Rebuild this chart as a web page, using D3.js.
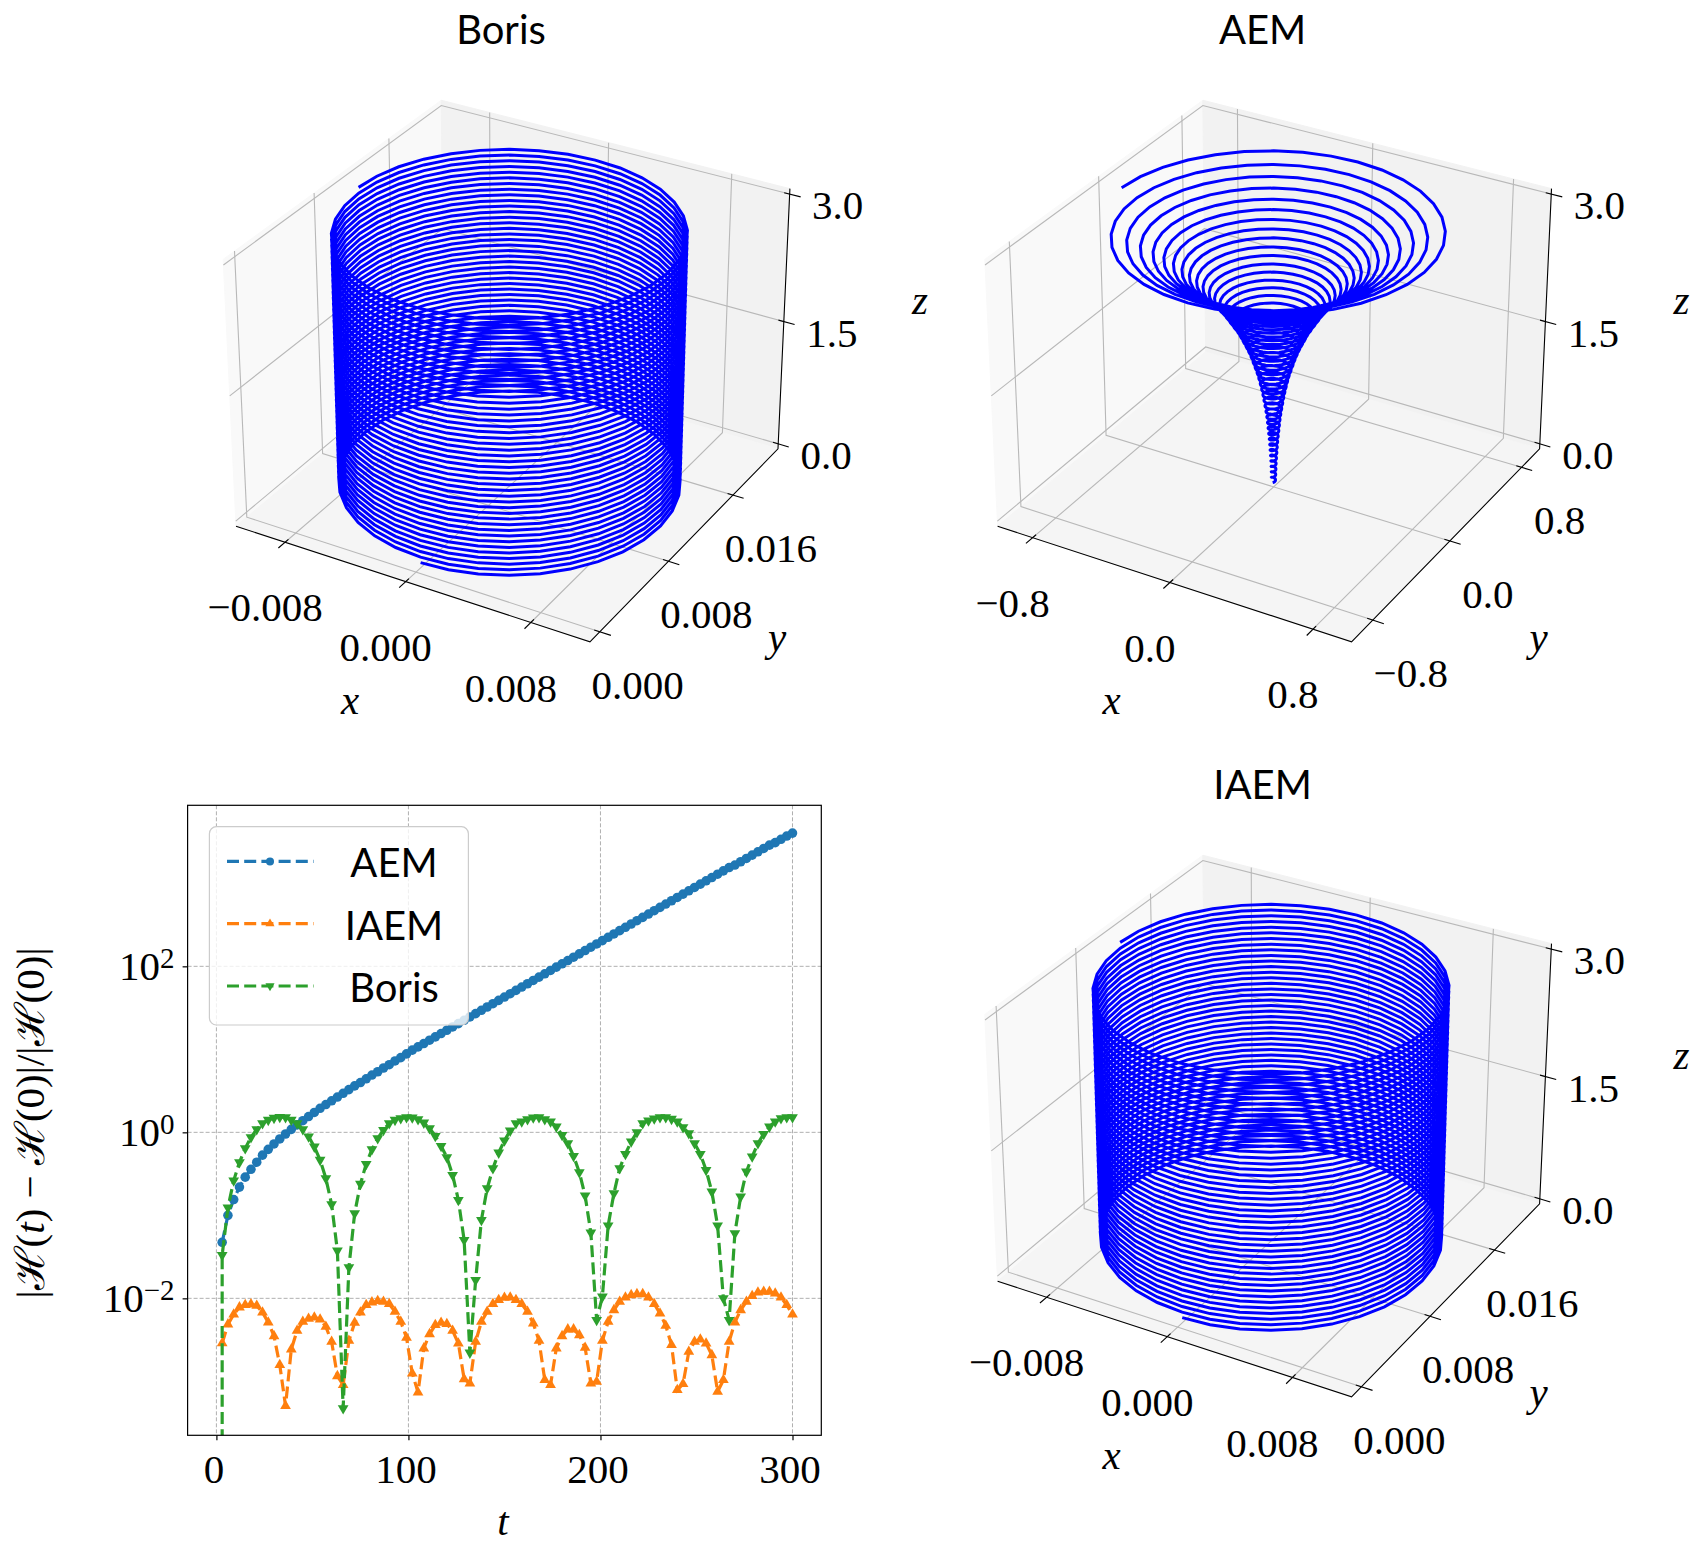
<!DOCTYPE html>
<html>
<head>
<meta charset="utf-8">
<script src="https://d3js.org/d3.v7.min.js"></script>
<style>
  body {margin: 0; background: #fff;}
  svg {display: block;}
  text {font-family: "Liberation Serif", serif; font-size: 41px; fill: #000;}
  .sans {font-family: Lato, sans-serif; font-size: 40px;}
  .axis path, .axis line {stroke: #000; stroke-width: 1.2;}
  .ital {font-style: italic;}
</style>
</head>
<body>
<svg id="chart" width="1701" height="1555"></svg>
<script>
// Energy error, log10 of the value at t = 3, 6, ... 300
var tValues = d3.range(3, 301, 3);
var aemLog = [-1.325,-1.0,-.81,-.66,-.54,-.445,-.36,-.275,-.205,-.14,
  -.08,-.02,.036,.09,.14,.19,.24,.29,.335,.38,
  .425,.47,.515,.56,.60,.645,.69,.73,.775,.815,
  .86,.90,.945,.99,1.03,1.07,1.11,1.15,1.19,1.23,
  1.27,1.31,1.35,1.39,1.43,1.47,1.51,1.55,1.59,1.63,
  1.67,1.71,1.75,1.79,1.83,1.87,1.91,1.95,1.99,2.03,
  2.07,2.11,2.15,2.19,2.23,2.27,2.31,2.35,2.39,2.43,
  2.47,2.51,2.55,2.59,2.63,2.67,2.71,2.75,2.79,2.83,
  2.87,2.91,2.95,2.99,3.03,3.07,3.11,3.15,3.19,3.22,
  3.26,3.30,3.34,3.38,3.42,3.46,3.49,3.53,3.57,3.605];
var iaemLog = [-2.54,-2.313,-2.193,-2.108,-2.08,-2.072,-2.088,-2.169,-2.289,-2.454,
  -2.803,-3.297,-2.614,-2.39,-2.281,-2.245,-2.229,-2.253,-2.341,-2.522,
  -2.936,-3.044,-2.51,-2.293,-2.169,-2.08,-2.048,-2.032,-2.04,-2.068,
  -2.161,-2.281,-2.474,-2.904,-3.133,-2.602,-2.43,-2.321,-2.293,-2.309,
  -2.39,-2.542,-2.972,-3.024,-2.522,-2.281,-2.161,-2.068,-2.02,-1.992,
  -1.988,-2.02,-2.068,-2.161,-2.301,-2.51,-2.984,-3.044,-2.602,-2.454,
  -2.373,-2.373,-2.442,-2.594,-3.024,-3.004,-2.51,-2.281,-2.141,-2.04,
  -1.988,-1.96,-1.948,-1.948,-1.988,-2.068,-2.181,-2.329,-2.562,-3.104,
  -3.032,-2.643,-2.522,-2.494,-2.542,-2.683,-3.124,-2.984,-2.522,-2.289,
  -2.141,-2.04,-1.972,-1.928,-1.92,-1.92,-1.94,-1.988,-2.08,-2.193];
var borisLog = [-1.478,-.908,-.582,-.361,-.193,-.06,.036,.108,.149,.173,
  .185,.181,.149,.108,.036,-.05,-.173,-.333,-.554,-.867,
  -1.426,-3.325,-1.626,-.976,-.622,-.382,-.205,-.072,.028,.108,
  .149,.169,.181,.177,.157,.116,.048,-.044,-.165,-.30,
  -.514,-.815,-1.297,-2.655,-1.78,-1.056,-.675,-.434,-.245,-.10,
  .02,.108,.129,.157,.177,.181,.157,.129,.068,-.032,
  -.133,-.285,-.482,-.763,-1.209,-2.261,-1.98,-1.124,-.735,-.434,
  -.261,-.112,0,.108,.141,.165,.181,.181,.161,.129,
  .06,-.012,-.133,-.261,-.454,-.715,-1.124,-2.0,-2.261,-1.217,
  -.775,-.474,-.293,-.133,-.02,.068,.129,.169,.181,.181];
var seriesNames = ["AEM", "IAEM", "Boris"];
var seriesColors = ["#1f77b4", "#ff7f0e", "#2ca02c"];
var xTicks2d = [0, 100, 200, 300];
var yTicks2d = [-2, 0, 2];

// Trajectories: radius at each turn (seen at the back of the ring)
var aemTurnRadius = [.01,.011,.012,.013,.015,.017,.019,.021,.024,.027,
  .03,.033,.037,.042,.047,.052,.058,.065,.072,.08,
  .09,.10,.11,.122,.135,.15,.165,.18,.20,.22,
  .24,.26,.285,.31,.34,.37,.405,.44,.48,.525,
  .575,.635,.70,.77,.86];
var cylinderRadius = .0099;
var cylinderCentre = [0, .0104];
var helixTurns = 44.74;
var helixStartDeg = -90;
var helixTopZ = 3;

var smallXDomain = [-.01134, .01168], smallYDomain = [-.0011, .0219];
var wideXDomain = [-1.01, 1.01], wideYDomain = [-1.01, 1.01];
var zDomain = [-.0625, 3.0625];
var zTicks = [0, 1.5, 3], zLabels = ["0.0", "1.5", "3.0"];
var smallXTicks = [-.008, 0, .008], smallXLabels = ["\u22120.008", "0.000", "0.008"];
var smallYTicks = [0, .008, .016], smallYLabels = ["0.000", "0.008", "0.016"];
var wideTicks = [-.8, 0, .8], wideLabels = ["\u22120.8", "0.0", "0.8"];

var svg = d3.select("#chart");

// same camera as mplot3d: elev 30, azim -60, dist 10, box 4:4:3
var boxA = 1.1905, boxC = .8929, camDist = 10, camScale = 3406;
var camU = [.866, .5, 0], camV = [-.25, .433, .866], camN = [.433, -.75, .5];

function makeProjector(cx, cy) {
    return function(bx, by, bz) {
        var p = [(bx - .5) * boxA, (by - .5) * boxA, (bz - .5) * boxC];
        var w = camDist - d3.sum(p, function(v, i) { return v * camN[i]; });
        var u = d3.sum(p, function(v, i) { return v * camU[i]; });
        var t = d3.sum(p, function(v, i) { return v * camV[i]; });
        return [cx + camScale * u / w, cy - camScale * t / w];
    };
}

function draw3d(opt) {
    var g = svg.append("g");
    var proj = makeProjector(opt.cx, opt.cy);
    var x = d3.scaleLinear().domain(opt.xDomain).range([0, 1]);
    var y = d3.scaleLinear().domain(opt.yDomain).range([0, 1]);
    var z = d3.scaleLinear().domain(zDomain).range([0, 1]);
    var line = d3.line();

    function seg(a, color, w) {
        g.append("path").attr("d", line(a.map(function(p) { return proj(p[0], p[1], p[2]); })))
            .attr("fill", "none").attr("stroke", color).attr("stroke-width", w);
    }
    function pane(a, color) {
        g.append("path").attr("d", line(a.map(function(p) { return proj(p[0], p[1], p[2]); })) + "Z")
            .attr("fill", color).attr("stroke", color);
    }
    pane([[0,0,0],[0,1,0],[0,1,1],[0,0,1]], "#f9f9f9");
    pane([[0,1,0],[1,1,0],[1,1,1],[0,1,1]], "#f2f2f2");
    pane([[0,0,0],[1,0,0],[1,1,0],[0,1,0]], "#f5f5f5");

    // grid
    opt.xTicks.forEach(function(t) { seg([[x(t),0,0],[x(t),1,0],[x(t),1,1]], "#b8b8b8", 1.1); });
    opt.yTicks.forEach(function(t) { seg([[1,y(t),0],[0,y(t),0],[0,y(t),1]], "#b8b8b8", 1.1); });
    zTicks.forEach(function(t) { seg([[0,0,z(t)],[0,1,z(t)],[1,1,z(t)]], "#b8b8b8", 1.1); });

    // axis lines and ticks
    seg([[0,0,0],[1,0,0],[1,1,0],[1,1,1]], "#000", 1.1);
    opt.xTicks.forEach(function(t, i) {
        seg([[x(t),-.03,0],[x(t),.015,0]], "#000", 1.1);
        label(proj(x(t), 0, 0), -20, 66, opt.xLabels[i]);
    });
    opt.yTicks.forEach(function(t, i) {
        seg([[1.03,y(t),0],[.985,y(t),0]], "#000", 1.1);
        label(proj(1, y(t), 0), 38, 54, opt.yLabels[i]);
    });
    zTicks.forEach(function(t, i) {
        seg([[1.03,1,z(t)],[.985,1,z(t)]], "#000", 1.1);
        label(proj(1, 1, z(t)), 48, 12, zLabels[i]);
    });
    function label(p, dx, dy, s) {
        g.append("text").attr("x", p[0] + dx).attr("y", p[1] + dy).attr("dy", ".32em")
            .attr("text-anchor", "middle").text(s);
    }

    // trajectory
    var pts = d3.range(0, helixTurns * 36 + 1).map(function(i) {
        var turn = i / 36, a = (helixStartDeg + 360 * turn) * Math.PI / 180;
        var r = opt.radius(turn), c = opt.centre(turn);
        return proj(x(c[0] + r * Math.cos(a)), y(c[1] + r * Math.sin(a)), z(helixTopZ * turn / helixTurns));
    });
    g.append("path").attr("d", line(pts)).attr("fill", "none").attr("stroke", "#0000ff")
        .attr("stroke-width", 3);

    g.append("text").attr("class", "sans").attr("x", opt.cx - 11).attr("y", opt.cy - 328 + 14)
        .attr("text-anchor", "middle").text(opt.title);
    [["x", -162, 344], ["y", 265, 281], ["z", 408, -56]].forEach(function(d) {
        g.append("text").attr("class", "ital").attr("x", opt.cx + d[1]).attr("y", opt.cy + d[2])
            .attr("dy", ".3em").attr("text-anchor", "middle").text(d[0]);
    });
}

var aemRadius = d3.scaleLinear().domain(aemTurnRadius.map(function(d, i) { return i + .583; })).range(aemTurnRadius);

draw3d({title: "Boris", cx: 512, cy: 358, xDomain: smallXDomain, yDomain: smallYDomain,
    xTicks: smallXTicks, xLabels: smallXLabels, yTicks: smallYTicks, yLabels: smallYLabels,
    radius: function() { return cylinderRadius; }, centre: function() { return cylinderCentre; }});
draw3d({title: "AEM", cx: 1273.6, cy: 358, xDomain: wideXDomain, yDomain: wideYDomain,
    xTicks: wideTicks, xLabels: wideLabels, yTicks: wideTicks, yLabels: wideLabels,
    radius: aemRadius, centre: function() { return [0, 0]; }});
draw3d({title: "IAEM", cx: 1273.6, cy: 1113, xDomain: smallXDomain, yDomain: smallYDomain,
    xTicks: smallXTicks, xLabels: smallXLabels, yTicks: smallYTicks, yLabels: smallYLabels,
    radius: function() { return cylinderRadius; }, centre: function() { return cylinderCentre; }});

// Energy error panel
var left = 187.6, right = 821.3, top2d = 805.3, bottom = 1435.3;
var xScale = d3.scaleLinear().domain([-15, 315]).range([left, right]);
var yScale = d3.scaleLog().domain([Math.pow(10, -3.65), Math.pow(10, 3.94)]).range([bottom, top2d]);
var g2 = svg.append("g");

svg.append("defs").append("clipPath").attr("id", "plotclip").append("rect")
    .attr("x", left).attr("y", top2d).attr("width", right - left).attr("height", bottom - top2d);

g2.selectAll(".gx").data(xTicks2d).enter().append("line")
    .attr("x1", function(d) { return xScale(d); }).attr("x2", function(d) { return xScale(d); })
    .attr("y1", top2d).attr("y2", bottom);
g2.selectAll(".gy").data(yTicks2d).enter().append("line")
    .attr("x1", left).attr("x2", right)
    .attr("y1", function(d) { return yScale(Math.pow(10, d)); }).attr("y2", function(d) { return yScale(Math.pow(10, d)); });
g2.selectAll("line").attr("stroke", "#b0b0b0").attr("stroke-width", 1).attr("stroke-dasharray", "4,2");

var line2d = d3.line()
    .x(function(d) { return xScale(d[0]); })
    .y(function(d) { return yScale(Math.pow(10, d[1])); });

var plot = g2.append("g").attr("clip-path", "url(#plotclip)");
var symbols = [d3.symbol().type(d3.symbolCircle).size(72), d3.symbol().type(d3.symbolTriangle).size(50), d3.symbol().type(d3.symbolTriangle).size(50)];
[aemLog, iaemLog, borisLog].forEach(function(vals, i) {
    var rows = vals.map(function(v, j) { return [tValues[j], v]; });
    // Boris starts from an exact zero, so its line comes up from below the axis
    var linePts = i == 2 ? [[tValues[0], -6]].concat(rows) : rows;
    plot.append("path").attr("d", line2d(linePts)).attr("fill", "none")
        .attr("stroke", seriesColors[i]).attr("stroke-width", 3.2).attr("stroke-dasharray", "12,5.2");
    plot.selectAll(".m" + i).data(rows).enter().append("path")
        .attr("d", symbols[i]()).attr("fill", seriesColors[i])
        .attr("transform", function(d) {
            return "translate(" + xScale(d[0]) + "," + yScale(Math.pow(10, d[1])) + ")" + (i == 2 ? " rotate(180)" : "");
        });
});

g2.append("rect").attr("x", left).attr("y", top2d).attr("width", right - left).attr("height", bottom - top2d)
    .attr("fill", "none").attr("stroke", "#000").attr("stroke-width", 1.2);

var xAxis = g2.append("g").attr("class", "axis").attr("transform", "translate(0," + bottom + ")")
    .call(d3.axisBottom(xScale).tickValues(xTicks2d).tickSize(5).tickPadding(14).tickFormat(d3.format("d")));
xAxis.select(".domain").remove();
xAxis.selectAll("text").attr("font-size", 41).style("font-size", "41px").attr("dx", "-3");

var yAxis = g2.append("g").attr("class", "axis").attr("transform", "translate(" + left + ",0)")
    .call(d3.axisLeft(yScale).tickValues(yTicks2d.map(function(d) { return Math.pow(10, d); })).tickSize(5).tickPadding(8));
yAxis.select(".domain").remove();
yAxis.selectAll("text").text(null).each(function(d, i) {
    var t = d3.select(this);
    t.append("tspan").text("10");
    t.append("tspan").attr("dy", "-.42em").style("font-size", "29px").text(yTicks2d[i] < 0 ? "\u2212" + (-yTicks2d[i]) : yTicks2d[i]);
});

svg.append("text").attr("class", "ital").attr("x", 503).attr("y", 1523).attr("dy", ".3em").attr("text-anchor", "middle").text("t");

var yLab = svg.append("text").attr("transform", "translate(30,1123) rotate(-90)").attr("text-anchor", "middle").attr("dy", ".35em");
yLab.append("tspan").text("|\u210B(");
yLab.append("tspan").attr("class", "ital").text("t");
yLab.append("tspan").text(") \u2212 \u210B(0)|/|\u210B(0)|");

// legend
var legend = svg.append("g");
legend.append("rect").attr("x", 209.4).attr("y", 826.7).attr("width", 259).attr("height", 198.3).attr("rx", 7)
    .attr("fill", "#fff").attr("fill-opacity", .8).attr("stroke", "#ccc").attr("stroke-width", 1.2);
seriesNames.forEach(function(name, i) {
    var ly = 861.4 + i * 62.3;
    legend.append("line").attr("x1", 227).attr("x2", 313.5).attr("y1", ly).attr("y2", ly)
        .attr("stroke", seriesColors[i]).attr("stroke-width", 3.2).attr("stroke-dasharray", "12,5.2");
    legend.append("path").attr("d", symbols[i].size(i == 0 ? 50 : 36)()).attr("fill", seriesColors[i])
        .attr("transform", "translate(270," + ly + ")" + (i == 2 ? " rotate(180)" : ""));
    legend.append("text").attr("class", "sans").attr("x", 394).attr("y", ly + 2).attr("dy", ".35em")
        .attr("text-anchor", "middle").text(name);
});
</script>
</body>
</html>
